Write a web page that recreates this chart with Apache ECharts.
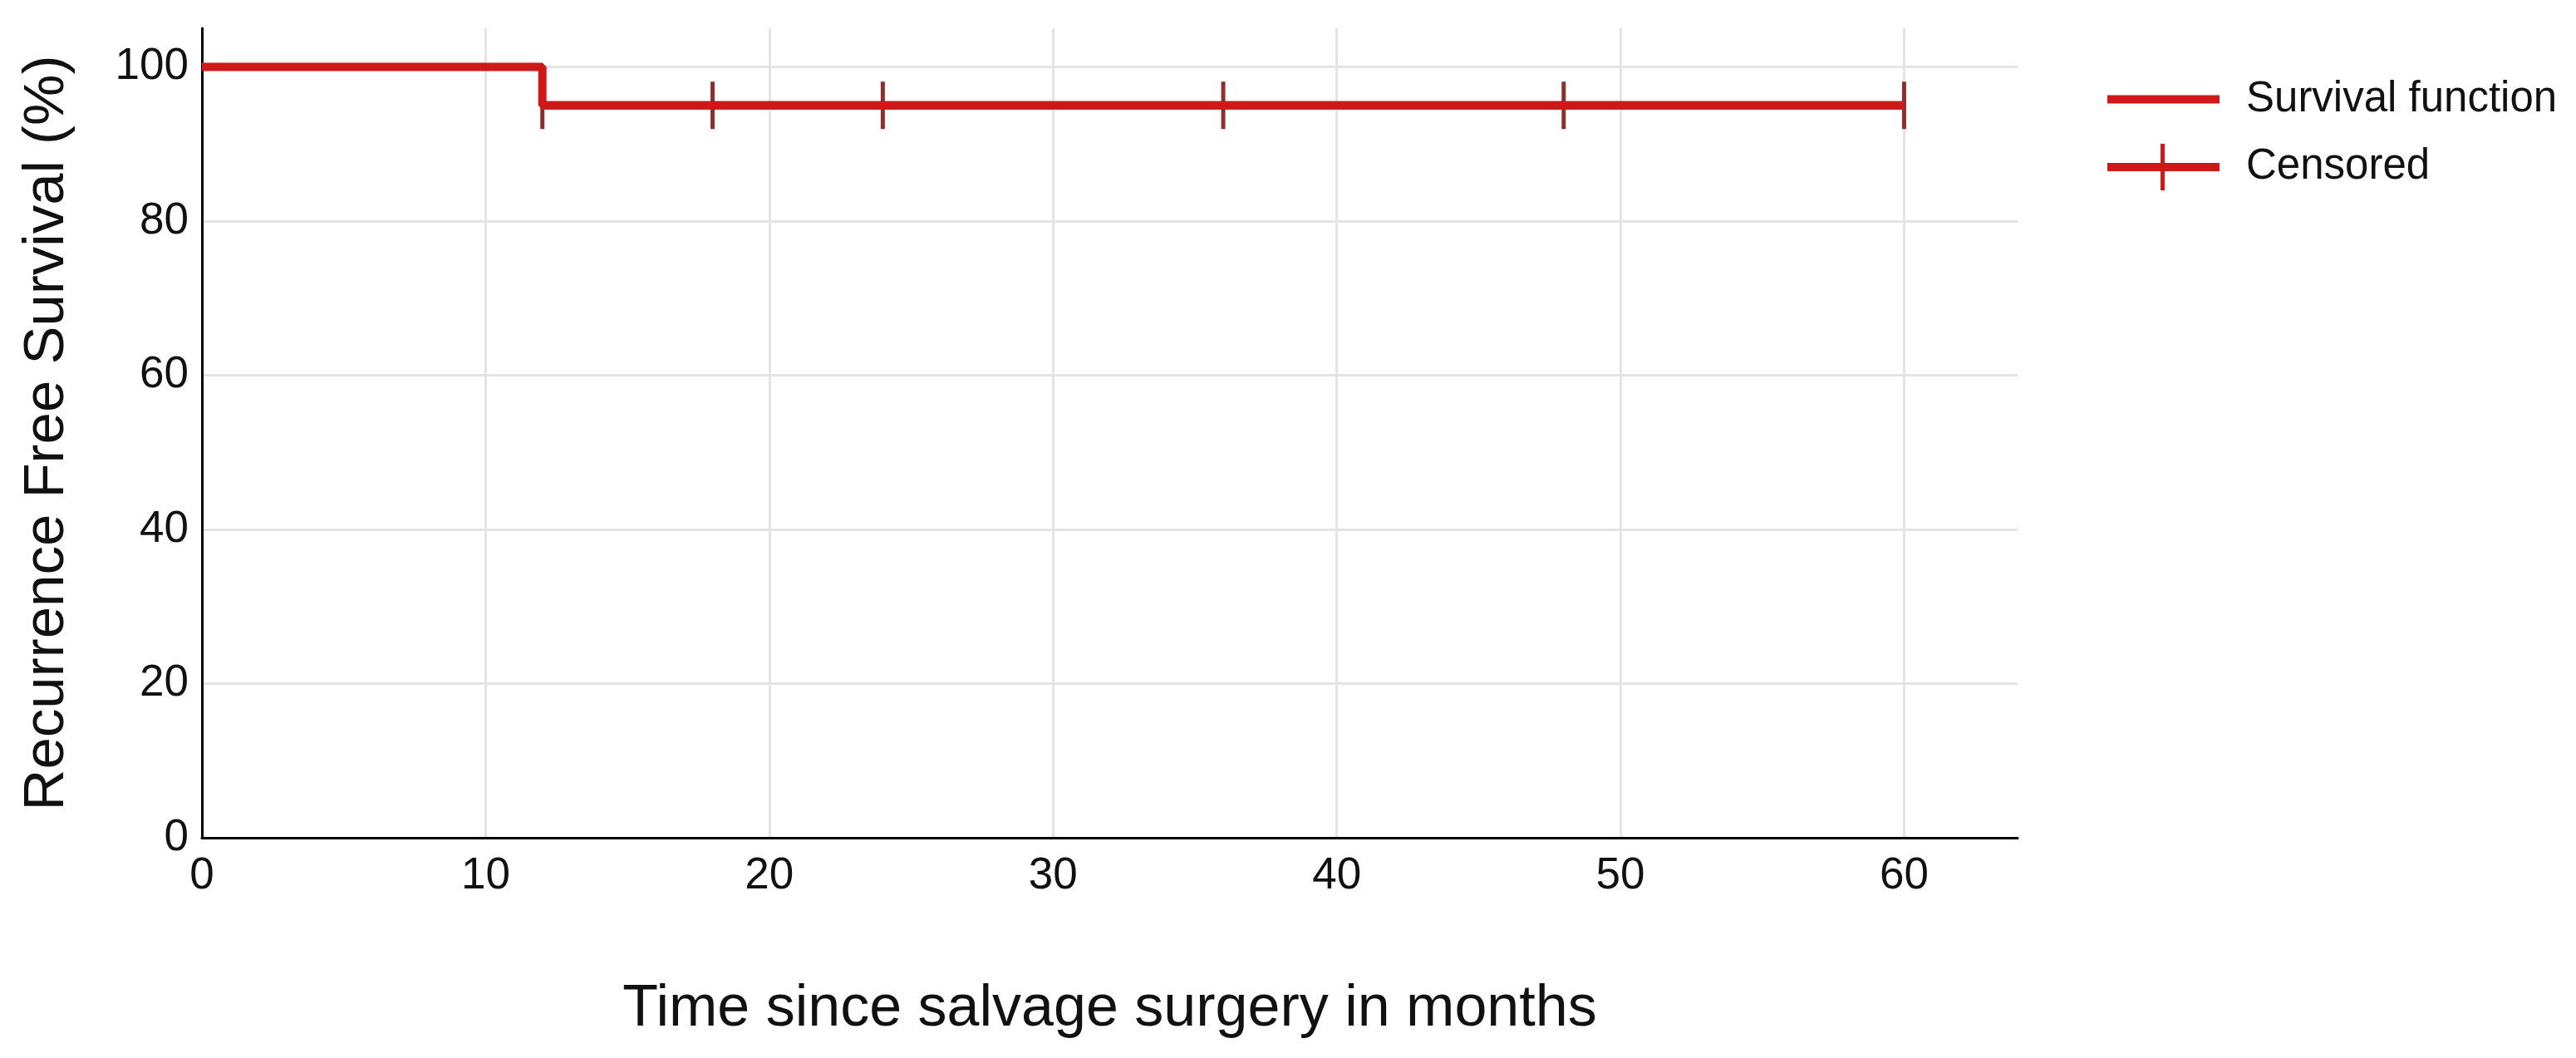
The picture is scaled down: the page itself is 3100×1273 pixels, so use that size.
<!DOCTYPE html>
<html>
<head>
<meta charset="utf-8">
<script src="https://cdn.jsdelivr.net/npm/echarts@6/dist/echarts.min.js"></script>
<style>
html,body{margin:0;padding:0;background:#fff;}
#chart{width:3100px;height:1273px;}
</style>
</head>
<body>
<div id="chart"></div>
<script>
// Data
const survivalTimes = [0, 12, 60];
const survivalValues = [100, 95, 95];
const censoredTimes = [12, 18, 24, 36, 48, 60];
const censoredValues = [95, 95, 95, 95, 95, 95];
const seriesNames = ['Survival function', 'Censored'];
const xTitle = 'Time since salvage surgery in months';
const yTitle = 'Recurrence Free Survival (%)';

const FONT = 'Liberation Sans';
const RED = '#cf1919';
const TICK = '#8e2f2f';

const chart = echarts.init(document.getElementById('chart'), null, {renderer: 'canvas'});
chart.setOption({
  animation: false,
  backgroundColor: '#ffffff',
  grid: {left: 243, right: 672, top: 34, bottom: 265, containLabel: false},
  legend: {
    orient: 'vertical',
    left: 2536,
    top: 94,
    padding: 0,
    itemWidth: 135,
    itemHeight: 56,
    itemGap: 28,
    textStyle: {fontFamily: FONT, fontSize: 51, color: '#111', padding: [0, 0, 0, 27]},
    data: [
      {name: seriesNames[0], icon: 'path://M0,23 L135,23 L135,33 L0,33 Z', itemStyle: {color: RED}},
      {name: seriesNames[1], icon: 'path://M0,23 L64,23 L64,0 L69,0 L69,23 L135,23 L135,33 L69,33 L69,56 L64,56 L64,33 L0,33 Z', itemStyle: {color: RED}}
    ]
  },
  xAxis: {
    type: 'value',
    min: 0, max: 64, interval: 10,
    name: xTitle,
    nameLocation: 'middle',
    nameGap: 172,
    nameTextStyle: {fontFamily: FONT, fontSize: 70, color: '#111'},
    axisLine: {show: true, onZero: false, lineStyle: {color: '#000', width: 3}},
    axisTick: {show: false},
    axisLabel: {fontFamily: FONT, fontSize: 53, color: '#111', margin: 20, showMaxLabel: false},
    splitLine: {show: true, showMinLine: false, showMaxLine: false, lineStyle: {color: '#e4e4e4', width: 3}}
  },
  yAxis: {
    type: 'value',
    min: 0, max: 105, interval: 20,
    name: yTitle,
    nameLocation: 'middle',
    nameGap: 152,
    nameTextStyle: {fontFamily: FONT, fontSize: 69, color: '#111'},
    axisLine: {show: true, onZero: false, lineStyle: {color: '#000', width: 3}},
    axisTick: {show: false},
    axisLabel: {fontFamily: FONT, fontSize: 53, color: '#111', margin: 16, showMaxLabel: false},
    splitLine: {show: true, showMinLine: false, showMaxLine: false, lineStyle: {color: '#e4e4e4', width: 3}}
  },
  series: [
    {
      name: seriesNames[1],
      type: 'line',
      data: censoredTimes.map((t, i) => [t, censoredValues[i]]),
      symbol: 'rect',
      symbolSize: [5, 57],
      showSymbol: true,
      itemStyle: {color: TICK},
      lineStyle: {color: RED, width: 10},
      emphasis: {disabled: true},
      z: 2
    },
    {
      name: seriesNames[0],
      type: 'line',
      step: 'end',
      data: survivalTimes.map((t, i) => [t, survivalValues[i]]),
      symbol: 'none',
      itemStyle: {color: RED},
      lineStyle: {color: RED, width: 10},
      emphasis: {disabled: true},
      z: 3
    }
  ]
});
</script>
</body>
</html>
